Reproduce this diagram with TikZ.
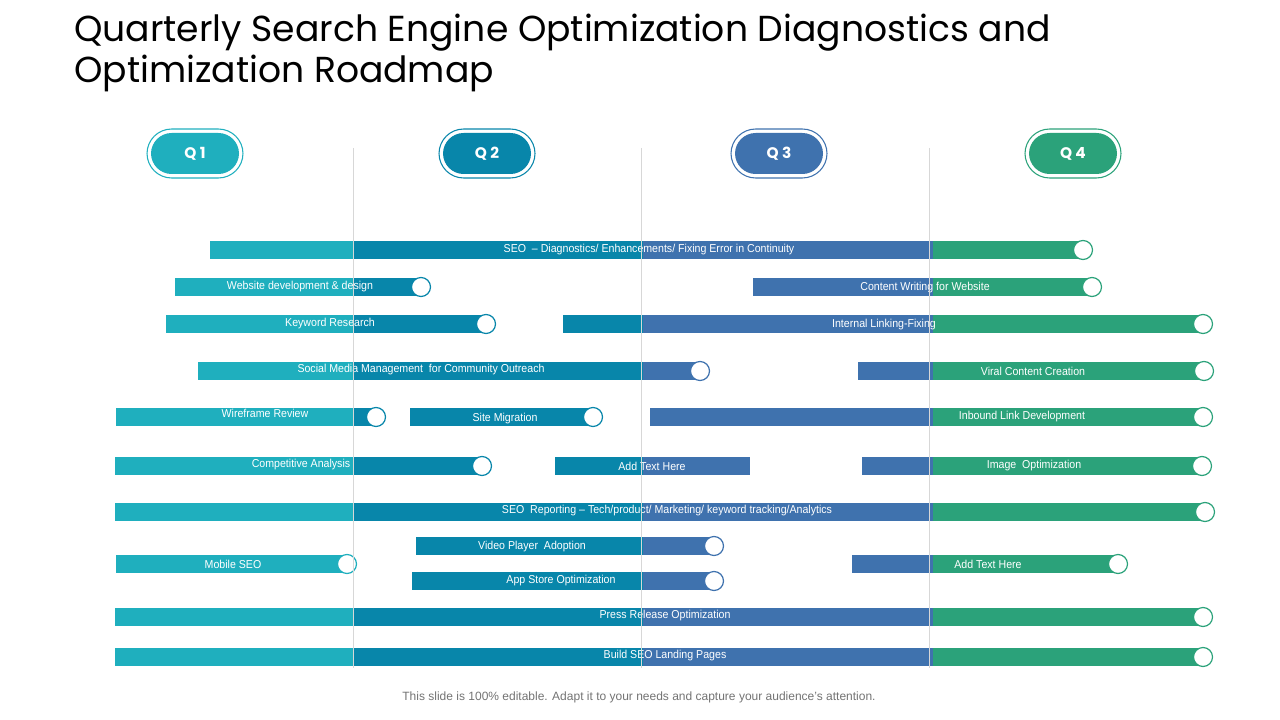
\documentclass[tikz,border=0pt]{standalone}
\usepackage{fontspec}
\setmainfont{Liberation Sans}
\newfontfamily\titlefont{Poppins}
\newfontfamily\barfont[FakeStretch=0.925]{Liberation Sans}
\definecolor{qa}{RGB}{31,175,190}
\definecolor{qb}{RGB}{8,134,170}
\definecolor{qc}{RGB}{63,114,174}
\definecolor{qd}{RGB}{43,162,122}
\definecolor{vline}{RGB}{215,215,215}
\newcommand\seg[4]{\fill[#4] (#1,#3-9) rectangle (#2,#3+9);}
\newcommand\dotend[3]{\draw[#3,fill=white,line width=0.9pt] (#1,#2) circle[radius=9.5];}
\tikzset{
  bt/.style={font=\barfont\fontsize{8.6}{10}\selectfont, text=white, inner sep=0pt},
  qlab/.style={font=\titlefont\bfseries\fontsize{11.5}{13}\selectfont, text=white},
  vl/.style={vline, line width=0.7pt}
}
\begin{document}
\begin{tikzpicture}[x=0.75pt,y=-0.75pt]
\useasboundingbox (0,0) rectangle (1280,720);
% title
\node[anchor=north west, align=left, inner sep=0pt, font=\titlefont\fontsize{27.1}{30.5}\selectfont, text=black] (title) at (74,14)
  {Quarterly Search Engine Optimization Diagnostics and\\Optimization Roadmap};
% quarter pills
\foreach \cx/\c/\t/\n in {195/qa/Q 1/qone, 487/qb/Q 2/qtwo, 779/qc/Q 3/qthree, 1073/qd/Q 4/qfour}{
  \draw[\c, line width=0.8pt, rounded corners=18.5pt] (\cx-48,129) rectangle (\cx+48,178);
  \fill[\c, rounded corners=15.5pt] (\cx-44,133) rectangle (\cx+44,174);
  \node[qlab] (\n) at (\cx,153.5) {\t};
}
% row 1
\seg{210}{353}{250}{qa}\seg{353}{643}{250}{qb}\seg{643}{933}{250}{qc}\seg{933}{1083}{250}{qd}\dotend{1083}{250}{qd}
\node[bt] (r1) at (649,250) {SEO \ – Diagnostics/ Enhancements/ Fixing Error in Continuity};
% row 2
\seg{175}{353}{287}{qa}\seg{353}{421}{287}{qb}\dotend{421}{287}{qb}
\node[bt] (r2a) at (300,287) {Website development \& design};
\seg{753}{933}{287}{qc}\seg{933}{1092}{287}{qd}\dotend{1092}{287}{qd}
\node[bt] (r2b) at (925,288) {Content Writing for Website};
% row 3
\seg{166}{353}{324}{qa}\seg{353}{486}{324}{qb}\dotend{486}{324}{qb}
\node[bt] (r3a) at (330,324) {Keyword Research};
\seg{563}{643}{324}{qb}\seg{643}{933}{324}{qc}\seg{933}{1203}{324}{qd}\dotend{1203}{324}{qd}
\node[bt] (r3b) at (884,325) {Internal Linking-Fixing};
% row 4
\seg{198}{353}{371}{qa}\seg{353}{643}{371}{qb}\seg{643}{700}{371}{qc}\dotend{700}{371}{qc}
\node[bt] (r4a) at (421,370) {Social Media Management \ for Community Outreach};
\seg{858}{933}{371}{qc}\seg{933}{1204}{371}{qd}\dotend{1204}{371}{qd}
\node[bt] (r4b) at (1033,371) {Viral Content Creation};
% row 5
\seg{116}{353}{417}{qa}\seg{353}{376}{417}{qb}\dotend{376}{417}{qb}
\node[bt] (r5a) at (265,413) {Wireframe Review};
\seg{410}{593}{417}{qb}\dotend{593}{417}{qb}
\node[bt] (r5b) at (505,419) {Site Migration};
\seg{650}{933}{417}{qc}\seg{933}{1203}{417}{qd}\dotend{1203}{417}{qd}
\node[bt] (r5c) at (1022,417) {Inbound Link Development};
% row 6
\seg{115}{353}{466}{qa}\seg{353}{482}{466}{qb}\dotend{482}{466}{qb}
\node[bt] (r6a) at (301,465) {Competitive Analysis};
\seg{555}{643}{466}{qb}\seg{643}{750}{466}{qc}
\node[bt] (r6b) at (652,466) {Add Text Here};
\seg{862}{933}{466}{qc}\seg{933}{1202}{466}{qd}\dotend{1202}{466}{qd}
\node[bt] (r6c) at (1034,466) {Image \ Optimization};
% row 7
\seg{115}{353}{512}{qa}\seg{353}{643}{512}{qb}\seg{643}{933}{512}{qc}\seg{933}{1205}{512}{qd}\dotend{1205}{512}{qd}
\node[bt] (r7) at (667,511) {SEO \ Reporting – Tech/product/ Marketing/ keyword tracking/Analytics};
% row 8
\seg{416}{643}{546}{qb}\seg{643}{714}{546}{qc}\dotend{714}{546}{qc}
\node[bt] (r8a) at (532,547) {Video Player \ Adoption};
\seg{116}{347}{564}{qa}\dotend{347}{564}{qa}
\node[bt] (r8b) at (233,564) {Mobile SEO};
\seg{852}{933}{564}{qc}\seg{933}{1118}{564}{qd}\dotend{1118}{564}{qd}
\node[bt] (r8c) at (988,564) {Add Text Here};
\seg{412}{643}{581}{qb}\seg{643}{714}{581}{qc}\dotend{714}{581}{qc}
\node[bt] (r9) at (561,581) {App Store Optimization};
% row 10-11
\seg{115}{353}{617}{qa}\seg{353}{643}{617}{qb}\seg{643}{933}{617}{qc}\seg{933}{1203}{617}{qd}\dotend{1203}{617}{qd}
\node[bt] (r10) at (665,616) {Press Release Optimization};
\seg{115}{353}{657}{qa}\seg{353}{643}{657}{qb}\seg{643}{933}{657}{qc}\seg{933}{1203}{657}{qd}\dotend{1203}{657}{qd}
\node[bt] (r11) at (665,656) {Build SEO Landing Pages};
% vertical quarter lines
\foreach \vx in {353,641,929}{\draw[vl] (\vx,148) -- (\vx,668);}
% footer
\node[font=\fontsize{9}{11}\selectfont, text=black!55] (foot) at (639,697) {This slide is 100\% editable. Adapt it to your needs and capture your audience’s attention.};
\end{tikzpicture}
\end{document}
